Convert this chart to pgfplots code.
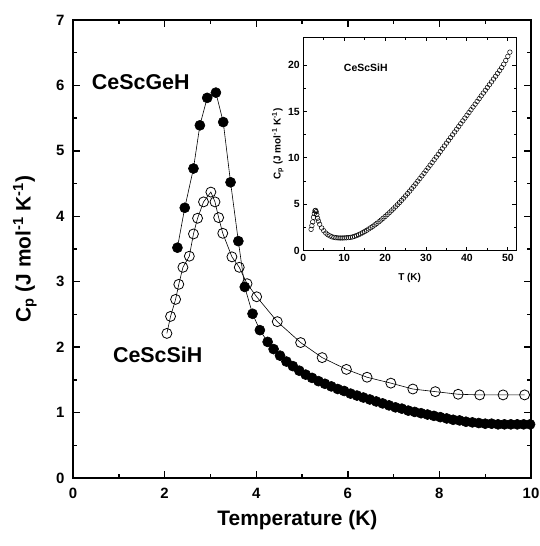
\documentclass[border=0pt]{standalone}
\usepackage{pgfplots}
\pgfplotsset{compat=1.18}
\usepackage{fontspec}
\setmainfont{Liberation Sans}
\begin{document}
\begin{tikzpicture}
\useasboundingbox (-73bp,-68bp) rectangle (467bp,478bp);
\begin{axis}[
  at={(0,0)}, anchor=south west,
  scale only axis, width=458bp, height=458bp,
  xmin=0, xmax=10, ymin=0, ymax=7,
  xtick={0,2,...,10}, ytick={0,1,...,7},
  minor x tick num=1, minor y tick num=1,
  xtick pos=both, ytick pos=both, tick align=inside,
  major tick length=7bp, minor tick length=4bp,
  axis line style={line width=1.8bp},
  every tick/.style={line width=1.4bp, black},
  /pgf/number format/assume math mode=true,
  tick label style={font=\fontsize{15}{18}\selectfont\bfseries},
  xticklabel style={yshift=-7bp},
  yticklabel style={xshift=-5bp},
  xlabel={Temperature (K)},
  ylabel={C\textsubscript{p} (J mol\textsuperscript{-1} K\textsuperscript{-1})},
  label style={font=\fontsize{21}{25}\selectfont\bfseries},
  xlabel style={at={(axis description cs:0.49,-0.092)}, anchor=center},
  ylabel style={at={(axis description cs:-0.105,0.5)}, anchor=center},
]
% CeScSiH (open)
\addplot[black, line width=0.6bp, mark=o, mark size=5bp,
  mark options={fill=white, line width=0.8bp, solid}] coordinates {
(2.05,2.21) (2.13,2.47) (2.24,2.73) (2.31,2.96) (2.40,3.22) (2.54,3.39)
(2.63,3.73) (2.72,3.97) (2.85,4.22) (3.01,4.37) (3.10,4.22) (3.18,3.98)
(3.27,3.74) (3.47,3.38) (3.63,3.22) (3.80,2.97) (4.01,2.77) (4.46,2.39)
(4.97,2.07) (5.44,1.84) (5.97,1.66) (6.42,1.54) (6.94,1.45) (7.42,1.36)
(7.91,1.32) (8.41,1.28) (8.88,1.27) (9.39,1.27) (9.86,1.27)
};
% CeScGeH (filled)
\addplot[black, line width=0.6bp, mark=*, mark size=5bp,
  mark options={fill=black, solid}] coordinates {
(2.28,3.52) (2.44,4.13) (2.63,4.73) (2.77,5.39) (2.93,5.81) (3.12,5.89)
(3.28,5.44) (3.44,4.52) (3.61,3.62) (3.75,2.92) (3.92,2.51) (4.08,2.26)
(4.25,2.08) (4.38,1.97) (4.52,1.87) (4.66,1.78) (4.80,1.71) (4.94,1.64)
(5.08,1.58) (5.22,1.53) (5.36,1.48) (5.50,1.44) (5.64,1.40) (5.78,1.36)
(5.92,1.33) (6.06,1.29) (6.20,1.26) (6.34,1.23) (6.48,1.20) (6.62,1.17)
(6.76,1.14) (6.90,1.11) (7.04,1.08) (7.18,1.06) (7.32,1.03) (7.46,1.01)
(7.60,0.99) (7.74,0.97) (7.88,0.95) (8.02,0.93) (8.16,0.91) (8.30,0.89)
(8.44,0.88) (8.58,0.86) (8.72,0.85) (8.86,0.84) (9.00,0.83) (9.14,0.83)
(9.28,0.82) (9.42,0.82) (9.56,0.82) (9.70,0.82) (9.84,0.82) (9.98,0.82)
};
\node[anchor=west, font=\fontsize{21.5}{25}\selectfont\bfseries, inner sep=0pt] at (axis cs:0.41,6.05) {CeScGeH};
\node[anchor=west, font=\fontsize{21.5}{25}\selectfont\bfseries, inner sep=0pt] at (axis cs:0.87,1.88) {CeScSiH};
\end{axis}
\begin{axis}[
  at={(230.3bp,227.3bp)}, anchor=south west,
  scale only axis, width=212.7bp, height=213.4bp,
  xmin=0, xmax=52, ymin=0, ymax=23,
  xtick={0,10,...,50}, ytick={0,5,...,20},
  minor x tick num=1, minor y tick num=1,
  xtick pos=both, ytick pos=both, tick align=inside,
  major tick length=4bp, minor tick length=2.5bp,
  axis line style={line width=0.9bp},
  every tick/.style={line width=0.9bp, black},
  axis background/.style={fill=white},
  /pgf/number format/assume math mode=true,
  tick label style={font=\fontsize{10.5}{12}\selectfont\bfseries},
  xlabel={T (K)},
  ylabel={C\textsubscript{p} (J mol\textsuperscript{-1} K\textsuperscript{-1})},
  label style={font=\fontsize{10}{12}\selectfont\bfseries},
  xlabel style={at={(axis description cs:0.5,-0.127)}, anchor=center},
  ylabel style={at={(axis description cs:-0.12,0.5)}, anchor=center},
]
\addplot[only marks, mark=o, mark size=2.3bp, mark options={black, line width=0.5bp}] coordinates {
(1.9,2.3) (2.1,2.7) (2.3,3.1) (2.5,3.6) (2.7,4.0) (2.85,4.3) (3.0,4.35)
(3.15,4.2) (3.3,3.9) (3.5,3.5) (3.7,3.2) (4.0,2.85) (4.5,2.45) (5.0,2.15)
(5.5,1.9) (6.0,1.72) (6.5,1.6) (7.0,1.5) (7.5,1.44) (8.0,1.4) (8.5,1.38)
(9.0,1.37) (9.5,1.37) (10.0,1.38) (10.5,1.39) (11.0,1.41) (11.5,1.44)
(12.0,1.48) (12.5,1.55) (13.0,1.63) (13.5,1.72) (14.0,1.82) (14.5,1.94)
(15.0,2.07) (15.5,2.2) (16.0,2.34) (16.5,2.48) (17.0,2.63) (17.5,2.79)
(18.0,2.95) (18.5,3.12) (19.0,3.3) (19.5,3.49) (20.0,3.68) (20.5,3.88)
(21.0,4.08) (21.5,4.29) (22.0,4.5) (22.5,4.72) (23.0,4.95) (23.5,5.18)
(24.0,5.42) (24.5,5.66) (25.0,5.91) (25.5,6.16) (26.0,6.42) (26.5,6.68)
(27.0,6.95) (27.5,7.22) (28.0,7.5) (28.5,7.78) (29.0,8.06) (29.5,8.34)
(30.0,8.63) (30.5,8.92) (31.0,9.21) (31.5,9.5) (32.0,9.8) (32.5,10.09)
(33.0,10.39) (33.5,10.69) (34.0,10.99) (34.5,11.29) (35.0,11.59)
(35.5,11.89) (36.0,12.19) (36.5,12.49) (37.0,12.79) (37.5,13.09)
(38.0,13.39) (38.5,13.69) (39.0,13.99) (39.5,14.29) (40.0,14.59)
(40.5,14.89) (41.0,15.19) (41.5,15.49) (42.0,15.79) (42.5,16.09)
(43.0,16.39) (43.5,16.69) (44.0,16.99) (44.5,17.29) (45.0,17.59)
(45.5,17.89) (46.0,18.19) (46.5,18.5) (47.0,18.8) (47.5,19.11)
(48.0,19.42) (48.5,19.74) (49.0,20.1) (49.5,20.5) (50.0,20.95) (50.5,21.4)
};
\node[anchor=west, font=\fontsize{10.5}{12}\selectfont\bfseries, inner sep=0pt] at (axis cs:9.9,19.7) {CeScSiH};
\end{axis}
\end{tikzpicture}
\end{document}
